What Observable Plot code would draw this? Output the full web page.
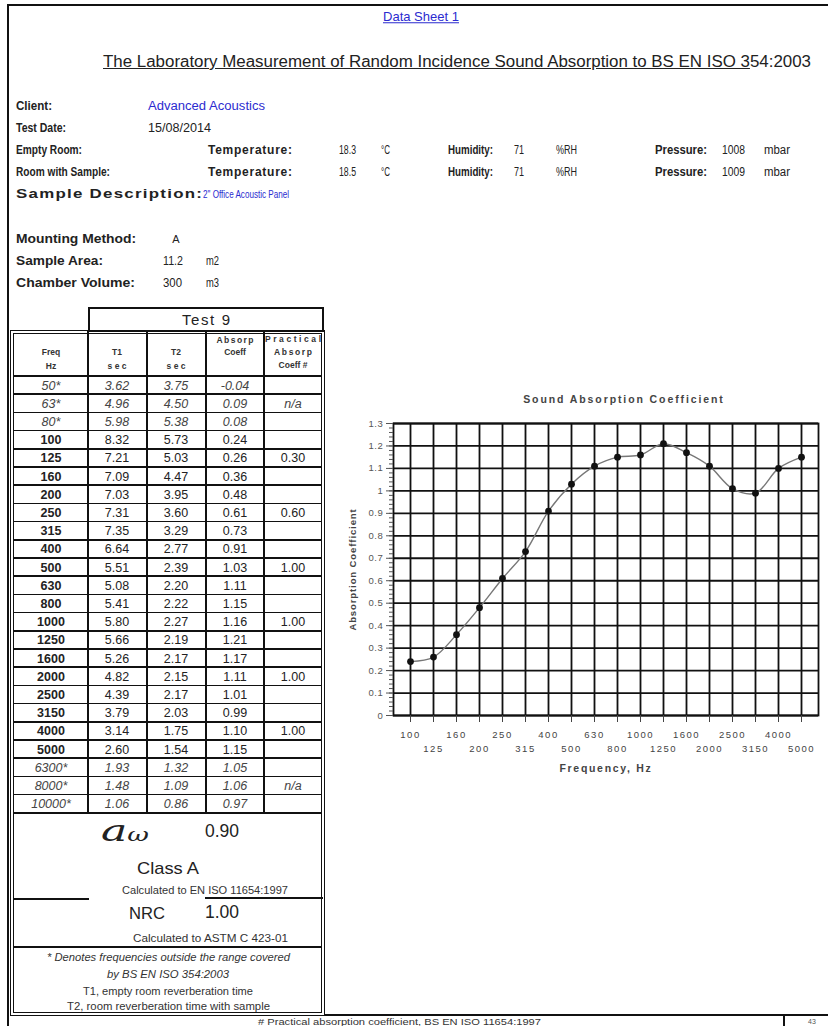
<!DOCTYPE html>
<html><head><meta charset="utf-8">
<script src="https://cdn.jsdelivr.net/npm/d3@7"></script>
<script src="https://cdn.jsdelivr.net/npm/@observablehq/plot@0.6"></script>
<style>
html,body{margin:0;padding:0;background:#fff;}
#page{position:relative;width:828px;height:1026px;overflow:hidden;font-family:"Liberation Sans",Arial,sans-serif;color:#222;background:#fff;}
.t{position:absolute;white-space:nowrap;line-height:1;transform-origin:0 50%;}
.ln{position:absolute;background:#111;}
#chart{position:absolute;left:330px;top:380px;overflow:visible;}
#chart [aria-label="x-axis tick label"] text{letter-spacing:1.5px;}
#chart [aria-label="y-axis tick label"] text{letter-spacing:0.6px;}
</style></head>
<body><div id="page"></div>
<script>
// ---------- data ----------
const freqLabels = ["50*","63*","80*","100","125","160","200","250","315","400","500","630","800","1000","1250","1600","2000","2500","3150","4000","5000","6300*","8000*","10000*"];
const t1Values = [3.62,4.96,5.98,8.32,7.21,7.09,7.03,7.31,7.35,6.64,5.51,5.08,5.41,5.80,5.66,5.26,4.82,4.39,3.79,3.14,2.60,1.93,1.48,1.06];
const t2Values = [3.75,4.50,5.38,5.73,5.03,4.47,3.95,3.60,3.29,2.77,2.39,2.20,2.22,2.27,2.19,2.17,2.15,2.17,2.03,1.75,1.54,1.32,1.09,0.86];
const absorpValues = [-0.04,0.09,0.08,0.24,0.26,0.36,0.48,0.61,0.73,0.91,1.03,1.11,1.15,1.16,1.21,1.17,1.11,1.01,0.99,1.10,1.15,1.05,1.06,0.97];
const practicalValues = ["","n/a","","","0.30","","","0.60","","","1.00","","","1.00","","","1.00","","","1.00","","","n/a",""];
const yTickValues = [0,0.1,0.2,0.3,0.4,0.5,0.6,0.7,0.8,0.9,1.0,1.1,1.2,1.3];

// chart series: in-range frequencies only
const chartFreq = freqLabels.filter(f => !f.includes("*"));
const chartAlpha = absorpValues.filter((_, i) => !freqLabels[i].includes("*"));
const chartData = chartFreq.map((f, i) => ({f, a: chartAlpha[i]}));
const oddTicks = chartFreq.filter((_, i) => i % 2 === 0);
const evenTicks = chartFreq.filter((_, i) => i % 2 === 1);
const minorTicks = d3.range(0, 131, 2).map(v => v / 100);

// ---------- helpers ----------
const page = document.getElementById("page");
function txt(s, x, y, o = {}) {
  const el = document.createElement("div");
  el.className = "t";
  if (o.html) el.innerHTML = s; else el.textContent = s;
  el.style.fontSize = (o.size || 12) + "px";
  if (o.bold) el.style.fontWeight = "bold";
  if (o.italic) el.style.fontStyle = "italic";
  el.style.color = o.color || "#222";
  if (o.family) el.style.fontFamily = o.family;
  if (o.ls) el.style.letterSpacing = o.ls + "px";
  page.appendChild(el);
  let w0 = el.getBoundingClientRect().width;
  let k = 1;
  if (o.w) {
    if (o.fit && o.w > w0) {
      const n = el.textContent.length;
      k = o.fit === "mix" ? Math.min(o.maxk || 1.2, o.w / w0) : 1;
      const rest = o.w / k - w0;
      el.style.letterSpacing = ((o.ls || 0) + rest / Math.max(1, n - 1)) + "px";
      w0 = o.w / k;
    } else {
      k = o.w / w0;
    }
  }
  const vw = w0 * k;
  const left = o.anchor === "middle" ? x - vw / 2 : o.anchor === "end" ? x - vw : x;
  el.style.left = left + "px";
  el.style.top = y + "px";
  el.style.transform = `translateY(-50%) scaleX(${k})`;
  return el;
}
function box(x, y, w, h, css) {
  const el = document.createElement("div");
  el.className = "ln";
  el.style.left = x + "px"; el.style.top = y + "px";
  el.style.width = w + "px"; el.style.height = h + "px";
  if (css) Object.assign(el.style, css);
  page.appendChild(el);
  return el;
}
const hline = (x1, x2, y, w = 1.5) => box(x1, y - w / 2, x2 - x1, w);
const vline = (x, y1, y2, w = 1.5) => box(x - w / 2, y1, w, y2 - y1);

// ---------- page frame ----------
hline(7, 828, 5, 2);
vline(8, 4, 1026, 2);

// ---------- header ----------
const BLUE = "#2b2bd0";
txt("Data Sheet 1", 421, 17, {size: 13.5, color: BLUE, anchor: "middle", w: 76}).style.textDecoration = "underline";
txt('<span style="text-decoration:underline">The Laboratory Measurement of Random Incidence Sound Absorption to BS EN ISO 3</span>54:2003', 103, 62, {html: true, size: 16, w: 708});

// info rows
const infoY = [106, 128, 150, 172, 194];
txt("Client:", 16, infoY[0], {bold: true, w: 36});
txt("Advanced Acoustics", 148, infoY[0], {color: BLUE, w: 117});
txt("Test Date:", 16, infoY[1], {bold: true, w: 50});
txt("15/08/2014", 148, infoY[1], {w: 63});
[["Empty Room:", 66, "18.3", "1008"], ["Room with Sample:", 94, "18.5", "1009"]].forEach((r, i) => {
  const y = infoY[2 + i];
  txt(r[0], 16, y, {bold: true, w: r[1]});
  txt("Temperature:", 208, y, {bold: true, w: 84, fit: "ls"});
  txt(r[2], 339, y, {w: 17});
  txt("°C", 381, y, {w: 9});
  txt("Humidity:", 448, y, {bold: true, w: 45});
  txt("71", 514, y, {w: 10});
  txt("%RH", 556, y, {w: 21});
  txt("Pressure:", 655, y, {bold: true, w: 52});
  txt(r[3], 722, y, {w: 23});
  txt("mbar", 764, y, {w: 26});
});
txt("Sample Description:", 16, infoY[4], {bold: true, size: 12.5, w: 186, fit: "mix", maxk: 1.35});
txt('2" Office Acoustic Panel', 203, infoY[4], {color: BLUE, size: 11, w: 86});

txt("Mounting Method:", 16, 239, {bold: true, size: 12, w: 120, fit: "mix"});
txt("A", 176, 239, {anchor: "middle", size: 11});
txt("Sample Area:", 16, 261, {bold: true, size: 12, w: 87, fit: "mix"});
txt("11.2", 163, 261, {w: 20});
txt("m2", 206, 261, {w: 13});
txt("Chamber Volume:", 16, 283, {bold: true, size: 12, w: 119, fit: "mix"});
txt("300", 163, 283, {w: 19});
txt("m3", 206, 283, {w: 13});

// ---------- table ----------
box(88, 307, 236, 25, {background: "transparent", border: "2px solid #111", boxSizing: "border-box"});
txt("Test 9", 206, 319, {size: 15, anchor: "middle", w: 48, fit: "ls", color: "#222"});
box(10, 330, 315, 686, {background: "transparent", border: "4px double #111", boxSizing: "border-box"});

const colX = [88, 147, 206, 264];
const colC = [51, 117, 176, 235, 293];
const rowTop = 376, rowH = 18.2;
colX.forEach(x => vline(x, 331, rowTop + rowH * freqLabels.length));
for (let i = 0; i <= freqLabels.length; i++) hline(13, 322, rowTop + i * rowH, 1.5);

const hs = {size: 8.5, bold: true, color: "#333", anchor: "middle"};
txt("Freq", colC[0], 352, hs); txt("Hz", colC[0], 366, hs);
txt("T1", colC[1], 352, hs); txt("sec", colC[1], 366, {...hs, w: 19, fit: "ls"});
txt("T2", colC[2], 352, hs); txt("sec", colC[2], 366, {...hs, w: 19, fit: "ls"});
txt("Absorp", colC[3], 340, {...hs, w: 37, fit: "ls"}); txt("Coeff", colC[3], 352, hs);
txt("Practical", colC[4], 339, {...hs, w: 56, fit: "ls"}); txt("Absorp", colC[4], 352, {...hs, w: 38, fit: "ls"}); txt("Coeff #", colC[4], 365, hs);

freqLabels.forEach((f, i) => {
  const y = rowTop + i * rowH + rowH / 2 + 0.5;
  const out = f.includes("*");
  const base = {size: 12.5, anchor: "middle", color: out ? "#444" : "#222", italic: out};
  txt(f, colC[0], y, {...base, bold: !out});
  txt(t1Values[i].toFixed(2), colC[1], y, base);
  txt(t2Values[i].toFixed(2), colC[2], y, base);
  txt(absorpValues[i].toFixed(2), colC[3], y, base);
  if (practicalValues[i]) txt(practicalValues[i], colC[4], y, {...base, italic: practicalValues[i] === "n/a"});
});

// summary
txt('a<span style="font-size:18px">ω</span>', 101, 831, {html: true, size: 30, italic: true, family: "'DejaVu Serif', serif", color: "#222", w: 48});
txt("0.90", 205, 832, {size: 17.5});
txt("Class A", 168, 868, {size: 17, anchor: "middle", w: 62});
txt("Calculated to EN ISO 11654:1997", 122, 891, {size: 10, w: 166, color: "#333"});
hline(13, 89, 899, 1.5);
hline(205, 323, 898, 1.5);
txt("NRC", 129, 913, {size: 17, w: 36});
txt("1.00", 205, 913, {size: 17.5});
txt("Calculated to ASTM C 423-01", 133, 939, {size: 10, w: 155, color: "#333"});
hline(13, 322, 947, 2);
txt("* Denotes frequencies outside the range covered", 168, 958, {size: 10, italic: true, anchor: "middle", w: 243, color: "#333"});
txt("by BS EN ISO 354:2003", 168, 975, {size: 10, italic: true, anchor: "middle", w: 122, color: "#333"});
txt("T1, empty room reverberation time", 168, 992, {size: 10, anchor: "middle", w: 170, color: "#333"});
txt("T2, room reverberation time with sample", 168, 1007, {size: 10, anchor: "middle", w: 203, color: "#333"});

// footer
hline(324, 828, 1015, 2);
vline(784, 1015, 1026, 1.5);
txt("# Practical absorption coefficient, BS EN ISO 11654:1997", 258, 1022, {size: 9.5, w: 283, color: "#333"});
txt("43", 808, 1021, {size: 7, color: "#555"});

// ---------- chart ----------
const svg = Plot.plot({
  width: 498, height: 400,
  marginLeft: 63, marginRight: 10, marginTop: 43, marginBottom: 65,
  style: {fontFamily: "'Liberation Sans', Arial, sans-serif", fontSize: "9.5px", color: "#444", background: "transparent", overflow: "visible"},
  x: {type: "point", domain: chartFreq, padding: 0.5},
  y: {domain: [0, 1.3]},
  marks: [
    Plot.gridX({ticks: chartFreq, stroke: "#111", strokeOpacity: 1, strokeWidth: 1.8}),
    Plot.gridY({ticks: yTickValues, stroke: "#111", strokeOpacity: 1, strokeWidth: 1.8}),
    Plot.frame({stroke: "#111", strokeWidth: 1.8}),
    Plot.axisY({ticks: minorTicks, tickSize: 4, tickFormat: () => "", color: "#555", label: null}),
    Plot.axisY({ticks: yTickValues, tickSize: 7, tickPadding: 3, tickFormat: d => String(+d.toFixed(1)), color: "#555", label: null}),
    Plot.axisX({ticks: oddTicks, tickSize: 7, tickPadding: 9, color: "#444", label: null}),
    Plot.axisX({ticks: evenTicks, tickSize: 7, tickPadding: 23, color: "#444", label: null}),
    Plot.line(chartData, {x: "f", y: "a", stroke: "#777", strokeWidth: 1.4, curve: "catmull-rom"}),
    Plot.dot(chartData, {x: "f", y: "a", r: 3.4, fill: "#111", stroke: "none"}),
    Plot.text(["Sound Absorption Coefficient"], {frameAnchor: "top", dy: -28, dx: 18, text: d => d, fontWeight: "bold", fontSize: 10.5, fill: "#444"}),
    Plot.text(["Frequency, Hz"], {frameAnchor: "bottom", dy: 56, text: d => d, fontWeight: "bold", fontSize: 10.5, fill: "#444"}),
    Plot.text(["Absorption Coefficient"], {frameAnchor: "left", textAnchor: "middle", dx: -41, rotate: -90, text: d => d, fontWeight: "bold", fontSize: 9.5, fill: "#444"})
  ]
});
svg.id = "chart";
page.appendChild(svg);
const styleText = (s, ls) => d3.select(svg).selectAll("text").filter(function () { return this.textContent === s; }).style("letter-spacing", ls);
styleText("Sound Absorption Coefficient", "1.9px");
styleText("Frequency, Hz", "1.7px");
styleText("Absorption Coefficient", "0.9px");
</script>
</body></html>
